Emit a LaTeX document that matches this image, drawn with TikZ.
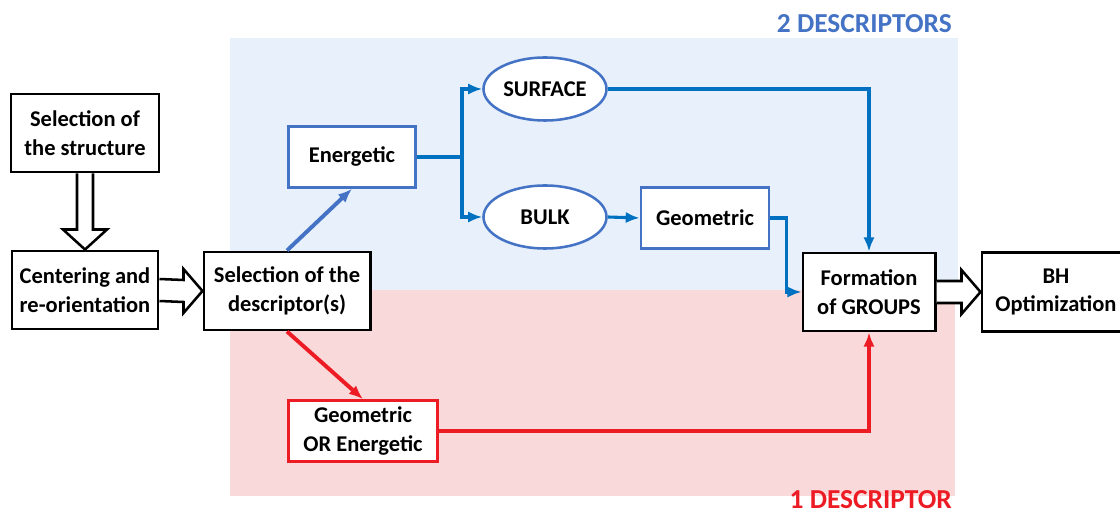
\documentclass[tikz,border=0pt]{standalone}
\usepackage{fontspec}
\setmainfont{Carlito}
\usetikzlibrary{arrows.meta,calc,shapes.geometric}
\definecolor{bgblue}{RGB}{232,241,251}
\definecolor{bgred}{RGB}{249,217,217}
\definecolor{boxblue}{RGB}{68,114,196}
\definecolor{lineblue}{RGB}{0,112,192}
\definecolor{linered}{RGB}{237,28,36}
\tikzset{
  txt/.style={font=\fontsize{16}{20.5}\selectfont\bfseries, align=center},
  blackbox/.style={txt, draw=black, line width=2.1pt, fill=white, inner sep=1pt},
  bluebox/.style={txt, draw=boxblue, line width=1.8pt, fill=white, inner sep=1pt},
  blueoval/.style={txt, ellipse, draw=boxblue, line width=1.8pt, fill=white, inner sep=0pt},
  redbox/.style={txt, draw=linered, line width=1.9pt, fill=white, inner sep=1pt},
  hollowarr/.style={draw=black, line width=1.8pt, fill=white, line join=miter},
  bluearr/.style={draw=lineblue, line width=2.2pt, -{Latex[length=10pt,width=8pt]}},
  redarr/.style={draw=linered, line width=2.2pt, -{Latex[length=10pt,width=8pt]}},
  areatitle/.style={anchor=east, inner sep=0pt, font=\fontsize{19.5}{22}\selectfont\bfseries}
}
\begin{document}
\begin{tikzpicture}[x=0.025cm, y=-0.025cm]
\useasboundingbox (0,0) rectangle (1120,517);

% shaded areas
\fill[bgblue] (230,38) rectangle (958,290);
\fill[bgred] (230,290) rectangle (955,496);
\node[areatitle, text=boxblue] (two) at (952,24) {2 DESCRIPTORS};
\node[areatitle, text=linered] (one) at (952,500) {1 DESCRIPTOR};

% boxes
\node[blackbox, minimum width=3.7cm, minimum height=1.95cm] (struct) at (85,133) {Selection of\\the structure};
\node[blackbox, minimum width=3.65cm, minimum height=1.95cm] (center) at (85,290) {Centering and\\re-orientation};
\node[blackbox, minimum width=4.15cm, minimum height=1.95cm] (select) at (287,291) {Selection of the\\descriptor(s)};
\node[bluebox, minimum width=3.175cm, minimum height=1.525cm] (energ) at (352,157) {Energetic};
\node[blueoval, minimum width=3.075cm, minimum height=1.575cm] (surf) at (545,89) {SURFACE};
\node[blueoval, minimum width=3.075cm, minimum height=1.575cm] (bulk) at (545,217) {BULK};
\node[bluebox, minimum width=3.2cm, minimum height=1.525cm] (geom) at (705,218) {Geometric};
\node[blackbox, minimum width=3.3cm, minimum height=1.95cm] (form) at (869,292) {Formation\\of GROUPS};
\node[blackbox, minimum width=3.7cm, minimum height=1.975cm] (bh) at (1056,292) {BH\\Optimization};
\node[redbox, minimum width=3.725cm, minimum height=1.525cm] (goe) at (363,431) {Geometric\\OR Energetic};

% hollow arrows
\draw[hollowarr] ($(struct.south)+(-8,0)$) -- ($(center.north)+(-8,-20)$) -- ($(center.north)+(-22,-20)$)
  -- (center.north) -- ($(center.north)+(22,-20)$) -- ($(center.north)+(8,-20)$) -- ($(struct.south)+(8,0)$);
\draw[hollowarr] ($(center.east)+(0,-11)$) -- ($(select.west)+(-19,-11)$) -- ($(select.west)+(-19,-22)$)
  -- (select.west) -- ($(select.west)+(-19,22)$) -- ($(select.west)+(-19,11)$) -- ($(center.east)+(0,11)$);
\draw[hollowarr] ($(form.east)+(0,-11)$) -- ($(bh.west)+(-19,-11)$) -- ($(bh.west)+(-19,-22)$)
  -- (bh.west) -- ($(bh.west)+(-19,22)$) -- ($(bh.west)+(-19,11)$) -- ($(form.east)+(0,11)$);

% two descriptors
\draw[bluearr, draw=boxblue, line width=2.8pt] (select.north) -- (energ.south);
\coordinate (split) at (462,157);
\draw[draw=lineblue, line width=2.8pt] (energ.east) -- (split);
\draw[bluearr, line width=2.8pt] (split) |- (surf.west);
\draw[bluearr, line width=2.8pt] (split) |- (bulk.west);
\draw[bluearr] (surf.east) -| (form.north);
\draw[bluearr] (bulk.east) -- (geom.west);
\draw[bluearr] (geom.east) -- ++(16,0) |- (form.west);

% one descriptor
\draw[redarr, line width=2.8pt] (select.south) -- (goe.north);
\draw[redarr] (goe.east) -| (form.south);
\end{tikzpicture}
\end{document}
